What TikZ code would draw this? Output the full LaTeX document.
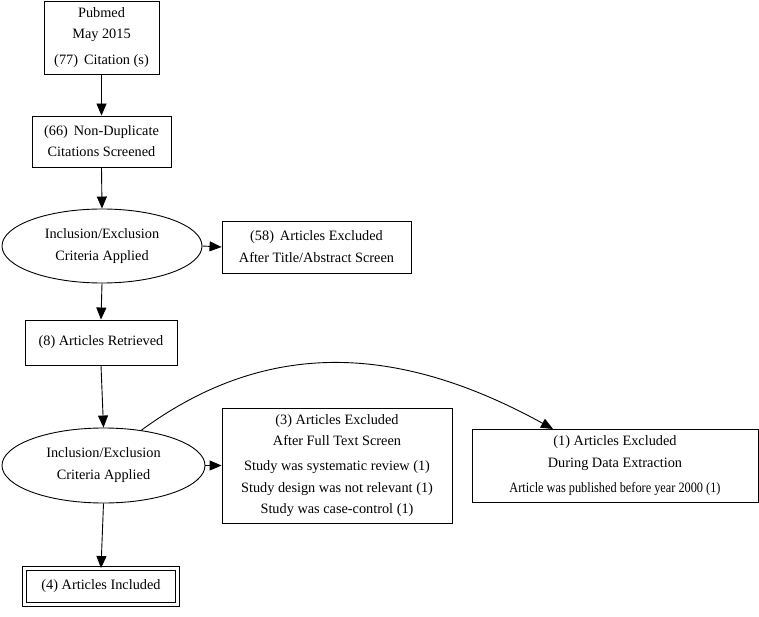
\documentclass[tikz,border=0pt]{standalone}
\usepackage{fontspec}
\usepackage{graphicx}
\setmainfont{Liberation Serif}
\usetikzlibrary{arrows.meta,shapes.geometric}
\begin{document}
\begin{tikzpicture}[x=1pt,y=-1pt,
  every node/.style={font=\fontsize{14.3}{17}\selectfont, align=center, inner sep=0pt},
  boxnode/.style={draw, line width=0.9pt, rectangle},
  ellnode/.style={draw, line width=0.9pt, ellipse},
  arr/.style={line width=0.9pt, -{Triangle[length=12pt,width=10pt]}}]
\useasboundingbox (0,0) rectangle (759,617);
\node[boxnode, minimum width=115, minimum height=73] (b1) at (101.5,37.5)
  {Pubmed\\[4pt]May 2015\\[9pt](77)\, Citation (s)};
\node[boxnode, minimum width=139, minimum height=51] (b2) at (101.5,141.5)
  {(66)\, Non-Duplicate\\[4pt]Citations Screened};
\node[ellnode, minimum width=200, minimum height=74] (e1) at (102,246)
  {Inclusion/Exclusion\\[5pt]Criteria Applied};
\node[boxnode, minimum width=189, minimum height=52] (b3) at (316.5,247)
  {(58)\, Articles Excluded\\[5pt]After Title/Abstract Screen};
\node[boxnode, minimum width=152, minimum height=45] (b4) at (101,342.5)
  {(8) Articles Retrieved};
\node[ellnode, minimum width=203, minimum height=75] (e2) at (103.5,465.5)
  {Inclusion/Exclusion\\[5pt]Criteria Applied};
\node[boxnode, minimum width=230, minimum height=115] (b5) at (337,465.5)
  {(3) Articles Excluded\\[4pt]After Full Text Screen\\[8pt]Study was systematic review (1)\\[5pt]Study design was not relevant (1)\\[4pt]Study was case-control (1)};
\node[draw, line width=0.9pt, double, double distance=3.8pt, rectangle, minimum width=153, minimum height=36] (b6) at (101,586.5)
  {(4) Articles Included};
\node[boxnode, minimum width=286, minimum height=73] (b7) at (615,465.5)
  {(1) Articles Excluded\\[5pt]During Data Extraction\\[8pt]\scalebox{0.86}[1]{Article was published before year 2000 (1)}};
\coordinate (t7) at (553,429);
\draw[arr] (b1.south) -- (b2.north);
\draw[arr] (b2.south) -- (e1.north);
\draw[arr] (e1.east) -- (b3.west);
\draw[arr] (e1.south) -- (b4.north);
\draw[arr] (b4.south) -- (e2.north);
\draw[arr] (e2.east) -- (b5.west);
\draw[arr] (e2.south) -- (b6.north);
\draw[arr] (e2.43) .. controls (263,341) and (393,341) .. (t7);
\end{tikzpicture}
\end{document}
